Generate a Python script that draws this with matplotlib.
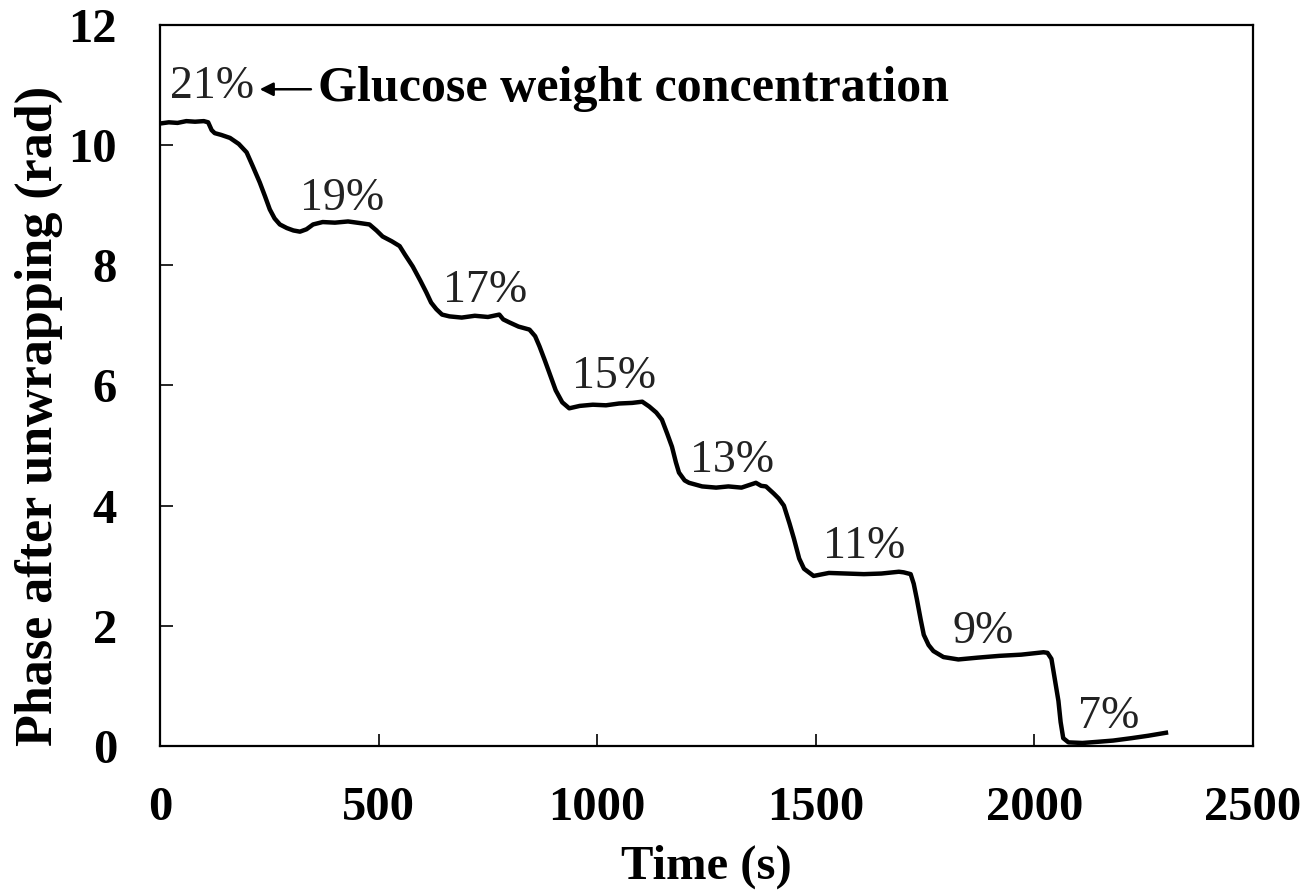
import matplotlib
matplotlib.use("Agg")
import matplotlib.pyplot as plt

time_s = [0, 20, 40, 60, 80, 100, 110, 118, 125, 140, 160, 180, 198, 212, 228, 240, 251, 262, 274, 290,
          305, 320, 335, 350, 372, 400, 430, 460, 479, 495, 509, 530, 548, 560, 578, 595, 609, 620, 632, 645,
          662, 690, 720, 750, 776, 785, 799, 820, 845, 858, 868, 880, 890, 905, 920, 936, 960, 990, 1020, 1050,
          1080, 1103, 1119, 1135, 1148, 1160, 1171, 1180, 1187, 1200, 1210, 1240, 1272, 1300, 1330, 1363, 1375,
          1386, 1404, 1415, 1427, 1440, 1450, 1462, 1473, 1495, 1530, 1570, 1610, 1650, 1690, 1701, 1717, 1724,
          1731, 1740, 1747, 1758, 1769, 1792, 1826, 1870, 1920, 1970, 2021, 2030, 2039, 2047, 2055, 2060, 2066,
          2078, 2110, 2146, 2180, 2222, 2260, 2301]
phase = [10.36, 10.38, 10.37, 10.40, 10.39, 10.40, 10.38, 10.25, 10.20, 10.17, 10.12, 10.02, 9.88, 9.65, 9.38,
         9.15, 8.93, 8.78, 8.68, 8.62, 8.58, 8.56, 8.60, 8.68, 8.72, 8.71, 8.73, 8.70, 8.68, 8.58, 8.48, 8.40,
         8.32, 8.18, 7.98, 7.75, 7.55, 7.38, 7.27, 7.18, 7.15, 7.13, 7.16, 7.14, 7.18, 7.10, 7.05, 6.98, 6.93,
         6.82, 6.65, 6.42, 6.22, 5.92, 5.72, 5.62, 5.66, 5.68, 5.67, 5.70, 5.71, 5.73, 5.65, 5.55, 5.43, 5.20,
         4.98, 4.72, 4.55, 4.42, 4.38, 4.32, 4.30, 4.32, 4.30, 4.38, 4.33, 4.32, 4.20, 4.12, 4.00, 3.70, 3.45,
         3.12, 2.95, 2.83, 2.88, 2.87, 2.86, 2.87, 2.90, 2.89, 2.86, 2.70, 2.45, 2.10, 1.85, 1.68, 1.58, 1.48,
         1.44, 1.47, 1.50, 1.52, 1.56, 1.55, 1.45, 1.10, 0.75, 0.40, 0.13, 0.06, 0.05, 0.07, 0.09, 0.13, 0.17,
         0.22]

conc_labels = ["21%", "19%", "17%", "15%", "13%", "11%", "9%", "7%"]
label_t = [118, 416, 744, 1039, 1308, 1610, 1884, 2169]
label_y = [10.97, 9.1, 7.57, 6.15, 4.75, 3.32, 1.9, 0.48]

x_ticks = [0, 500, 1000, 1500, 2000, 2500]
y_ticks = [0, 2, 4, 6, 8, 10, 12]

plt.rcParams['font.family'] = ['Liberation Serif', 'DejaVu Serif']

fig = plt.figure(figsize=(13.12, 8.92), dpi=100)
ax = fig.add_axes([0.122, 0.1637, 0.833, 0.8083])

ax.plot(time_s, phase, color='black', linewidth=3.2, solid_joinstyle='round')

for lab, tx, ty in zip(conc_labels, label_t, label_y):
    ax.text(tx, ty, lab, ha='center', va='center', fontsize=33, color='#222222')

ax.annotate('Glucose weight concentration', xy=(228, 10.93), xytext=(361, 10.93),
            ha='left', va='center', fontsize=36, fontweight='bold',
            arrowprops=dict(arrowstyle='-|>', color='black', lw=1.8, mutation_scale=20,
                            shrinkA=3, shrinkB=0))

ax.set_xlim(0, 2500)
ax.set_ylim(0, 12)
ax.set_xticks(x_ticks)
ax.set_yticks(y_ticks)
ax.tick_params(direction='in', length=9, width=1.2, labelsize=35)
ax.tick_params(axis='x', pad=29)
ax.tick_params(axis='y', pad=31)
for lbl in ax.get_xticklabels() + ax.get_yticklabels():
    lbl.set_fontweight('bold')
for sp in ax.spines.values():
    sp.set_linewidth(1.6)

ax.set_xlabel('Time (s)', fontsize=35, fontweight='bold', labelpad=10)
ax.set_ylabel('Phase after unwrapping (rad)', fontsize=37.5, fontweight='bold')
ax.yaxis.set_label_coords(-0.089, 0.458)

fig.savefig('out.png', dpi=100, facecolor='white')
